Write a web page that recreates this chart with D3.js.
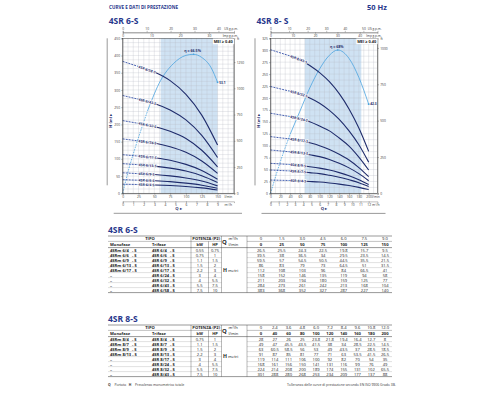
<!DOCTYPE html>
<html><head><meta charset="utf-8">
<script src="https://cdn.jsdelivr.net/npm/d3@7/dist/d3.min.js"></script>
<style>
body{margin:0;background:#fff}
svg{font-family:"Open Sans",sans-serif;display:block}
</style></head><body>
<svg id="page" width="500" height="400"></svg>
<script>
// ---- 4SR 6-S data
const q6 = [0,25,50,75,100,125,150];
const q6m3 = ["0","1.5","3.0","4.5","6.0","7.5","9.0"];
const mono6 = ["4SRm 6/4   - S","4SRm 6/6   - S","4SRm 6/9   - S","4SRm 6/13 - S","4SRm 6/17 - S","–","–","–","–"];
const tri6 = ["4SR 6/4   - S","4SR 6/6   - S","4SR 6/9   - S","4SR 6/13 - S","4SR 6/17 - S","4SR 6/24 - S","4SR 6/32 - S","4SR 6/43 - S","4SR 6/58 - S"];
const curve6 = ["4SR 6/4-S","4SR 6/6-S","4SR 6/9-S","4SR 6/13-S","4SR 6/17-S","4SR 6/24-S","4SR 6/32-S","4SR 6/43-S","4SR 6/58-S"];
const kw6 = ["0.55","0.75","1.1","1.5","2.2","3","4","5.5","7.5"];
const hp6 = ["0.75","1","1.5","2","3","4","5.5","7.5","10"];
const h6 = [
  [26.5,25.5,24.3,22.5,19.8,15.7,9.5],
  [39.5,38,36.5,34,29.5,23.5,14.5],
  [59.5,57,54.5,50.5,44.5,35.5,21.5],
  [86,83,79,73,64.5,51,31.5],
  [112,108,103,96,84,66.5,41],
  [158,152,146,135,119,94,58],
  [211,203,194,180,159,125,77],
  [284,273,261,242,213,168,104],
  [383,368,352,327,287,227,140]
];
const eff6Q = [0,10,20,40,60,80,100,112,125,140,150];
const eff6 = [0,12,22,40,54,62,66,66.5,65,60,53.1];

// ---- 4SR 8-S data
const q8 = [0,40,60,80,100,120,140,160,180,200];
const q8m3 = ["0","2.4","3.6","4.8","6.0","7.2","8.4","9.6","10.8","12.0"];
const mono8 = ["4SRm 8/4   - S","4SRm 8/7   - S","4SRm 8/9   - S","4SRm 8/13 - S","–","–","–","–"];
const tri8 = ["4SR 8/4   - S","4SR 8/7   - S","4SR 8/9   - S","4SR 8/13 - S","4SR 8/17 - S","4SR 8/24 - S","4SR 8/32 - S","4SR 8/43 - S"];
const curve8 = ["4SR 8/4-S","4SR 8/7-S","4SR 8/9-S","4SR 8/13-S","4SR 8/17-S","4SR 8/24-S","4SR 8/32-S","4SR 8/43-S"];
const kw8 = ["0.75","1.1","1.5","2.2","3","4","5.5","7.5"];
const hp8 = ["1","1.5","2","3","4","5.5","7.5","10"];
const h8 = [
  [28,27,26,25,23.8,21.8,19.4,16.4,12.7,8],
  [49,47,45.5,43.5,41.5,38,34,28.5,22.5,14.5],
  [63,60.5,58.5,56,53,49,43.5,37,28.5,18.5],
  [91,87,85,81,77,71,63,53.5,41.5,26.5],
  [119,114,111,106,100,92,82,70,54,35],
  [168,161,156,150,141,131,116,99,76,49],
  [224,214,208,200,189,174,155,131,102,65.5],
  [301,288,280,268,253,234,209,177,137,88]
];
const eff8Q = [0,20,40,60,80,100,120,137,160,180,200];
const eff8 = [0,15,28,39,50,59,65.5,68,64,55,42.3];

const navy = "#1f2c6c", title = "#27378c", effBlue = "#4aa3df";
const page = d3.select("#page");

page.append("text").attr("x",109).attr("y",9).text("CURVE E DATI DI PRESTAZIONE")
  .attr("font-size",4.6).attr("font-weight","bold").attr("fill",title);
page.append("text").attr("x",387).attr("y",10).attr("text-anchor","end").text("50 Hz")
  .attr("font-size",7.5).attr("font-weight","bold").attr("fill",title);

function drawChart(c){
  let g = page.append("g");
  let x = d3.scaleLinear().domain([0,c.qMax]).range([c.left,c.right]);
  let y = d3.scaleLinear().domain([0,c.hMax]).range([c.bottom,c.top]);
  let yFt = d3.scaleLinear().domain([0,c.hMax/0.3048]).range([c.bottom,c.top]);
  let yEff = d3.scaleLinear().domain([0,100]).range([c.bottom,c.effTop]);

  g.append("text").attr("x",c.left-14).attr("y",24).text(c.title)
   .attr("font-size",8.5).attr("font-weight","bold").attr("fill",title);

  g.append("rect").attr("x",x(c.shade[0])).attr("y",c.top)
   .attr("width",x(c.shade[1])-x(c.shade[0])).attr("height",c.bottom-c.top).attr("fill","#cfe2f3");

  g.selectAll(".gv").data(d3.range(0,c.qMax,c.gridQ)).enter().append("line")
   .attr("x1",d=>x(d)).attr("x2",d=>x(d)).attr("y1",c.top).attr("y2",c.bottom)
   .attr("stroke","#b8bcc4").attr("stroke-width",0.3);
  g.selectAll(".gh").data(d3.range(0,c.hMax,c.gridH)).enter().append("line")
   .attr("y1",d=>y(d)).attr("y2",d=>y(d)).attr("x1",c.left).attr("x2",c.right)
   .attr("stroke","#b8bcc4").attr("stroke-width",0.3);

  let line = d3.line().x(d=>x(d[0])).y(d=>y(d[1])).curve(d3.curveMonotoneX);
  let effLine = d3.line().x(d=>x(d[0])).y(d=>yEff(d[1])).curve(d3.curveMonotoneX);

  // efficiency curve
  let ep = c.effQ.map((q,i)=>[q,c.eff[i]]);
  let ek = c.effQ.findIndex(q=>q>=c.dashTo);
  g.append("path").attr("d",effLine(ep.slice(0,ek+1))).attr("fill","none")
   .attr("stroke",effBlue).attr("stroke-width",0.8).attr("stroke-dasharray","1.6,1");
  g.append("path").attr("d",effLine(ep.slice(ek))).attr("fill","none")
   .attr("stroke",effBlue).attr("stroke-width",0.8);
  let pk = d3.maxIndex(c.eff);
  g.append("circle").attr("cx",x(c.effQ[pk])).attr("cy",yEff(c.eff[pk])).attr("r",0.8).attr("fill",effBlue);
  g.append("text").attr("x",x(c.effQ[pk])-1).attr("y",yEff(c.eff[pk])-2).attr("text-anchor","middle")
   .text("η = "+c.eff[pk]+"%").attr("font-size",3.6).attr("font-weight","bold").attr("fill",navy);
  let last = c.eff.length-1;
  g.append("rect").attr("x",x(c.effQ[last])-0.8).attr("y",yEff(c.eff[last])-0.8).attr("width",1.6).attr("height",1.6).attr("fill",effBlue);
  g.append("text").attr("x",x(c.effQ[last])+1.6).attr("y",yEff(c.eff[last])+1.2)
   .text(c.eff[last]).attr("font-size",3.2).attr("font-weight","bold").attr("fill",navy);

  // H curves
  let k = c.q.indexOf(c.dashTo);
  c.h.forEach((row,i)=>{
    let pts = c.q.map((q,j)=>[q,row[j]]);
    g.append("path").attr("d",line(pts.slice(0,k+1))).attr("fill","none")
     .attr("stroke","#3450a8").attr("stroke-width",0.9).attr("stroke-dasharray","2,1");
    g.append("path").attr("d",line(pts.slice(k))).attr("fill","none")
     .attr("stroke",navy).attr("stroke-width",1.1);
    let x0 = x(c.q[k]), y0 = y(row[k]), x1 = x(c.q[k+1]), y1 = y(row[k+1]);
    let ang = Math.atan2(y1-y0,x1-x0)*180/Math.PI;
    g.append("text").attr("transform",`translate(${x0},${y0}) rotate(${ang})`)
     .attr("dy","0.35em").text(c.names[i]).attr("font-size",3.6).attr("font-weight","bold")
     .attr("fill",navy).attr("stroke","#fff").attr("stroke-width",1.2).attr("paint-order","stroke");
  });

  g.append("rect").attr("x",c.left).attr("y",c.top).attr("width",c.right-c.left).attr("height",c.bottom-c.top)
   .attr("fill","none").attr("stroke","#333").attr("stroke-width",0.5);

  let mei = g.append("text").attr("x",c.right-1.2).attr("y",c.top+4.6).attr("text-anchor","end")
   .text("MEI ≥ 0.40").attr("font-size",3.9).attr("font-weight","bold").attr("fill","#222");
  let bb = mei.node().getBBox();
  g.insert("rect","text:last-of-type").attr("x",bb.x-0.8).attr("y",bb.y-0.3).attr("width",bb.width+1.6).attr("height",bb.height+0.6).attr("fill","#fff");

  let style = (sel)=>{
    sel.selectAll("text").attr("font-size",3.3).attr("fill","#333").attr("font-family","'Open Sans',sans-serif");
    sel.selectAll("path,line").attr("stroke","#444").attr("stroke-width",0.35);
  };
  let fmt = d3.format("d");

  g.append("g").attr("transform",`translate(${c.left},0)`)
   .call(d3.axisLeft(y).tickValues(d3.range(0,c.hMax+1,c.hStep)).tickSize(1.5).tickPadding(1.2).tickFormat(fmt)).call(style);
  g.append("g").attr("transform",`translate(${c.right},0)`)
   .call(d3.axisRight(yFt).tickValues(c.ftTicks).tickSize(1.5).tickPadding(1.2).tickFormat(fmt)).call(style);
  g.append("text").attr("x",c.right+3).attr("y",c.top+1.5).text("ft").attr("font-size",3.3).attr("fill","#333");

  g.append("g").attr("transform",`translate(0,${c.bottom})`)
   .call(d3.axisBottom(x).tickValues(c.q.length>7?d3.range(0,201,20):c.q).tickSize(1.5).tickPadding(0.8).tickFormat(fmt)).call(style);
  g.append("text").attr("x",c.lminX).attr("y",c.bottom+4.9).text("l/min").attr("font-size",3.2).attr("fill","#333");

  let xm = d3.scaleLinear().domain([0,c.qMax*0.06]).range([c.left,c.right]);
  g.append("g").attr("transform",`translate(0,${c.bottom+8})`)
   .call(d3.axisBottom(xm).tickValues(d3.range(0,c.m3Max+1)).tickSize(1.8).tickPadding(0.6).tickFormat(fmt)).call(style);
  g.append("text").attr("x",c.lminX).attr("y",c.bottom+12.4).text("m³/h").attr("font-size",3.3).attr("fill","#333");

  let xUs = d3.scaleLinear().domain([0,c.qMax/3.785]).range([c.left,c.right]);
  let xImp = d3.scaleLinear().domain([0,c.qMax/4.546]).range([c.left,c.right]);
  g.append("g").attr("transform",`translate(0,${c.top-6})`)
   .call(d3.axisTop(xUs).tickValues(c.usTicks).tickSize(1.5).tickPadding(0.6).tickFormat(fmt)).call(style);
  g.append("g").attr("transform",`translate(0,${c.top-6})`)
   .call(d3.axisBottom(xImp).tickValues(c.impTicks).tickSize(1.5).tickPadding(0.6).tickFormat(fmt)).call(style);
  g.append("text").attr("x",c.right+4).attr("y",c.top-8.3).attr("text-anchor","end").text("US g.p.m.").attr("font-size",3.1).attr("fill","#333");
  g.append("text").attr("x",c.right+4).attr("y",c.top-1.6).attr("text-anchor","end").text("Imp g.p.m.").attr("font-size",3.1).attr("fill","#333");

  g.append("text").attr("x",(c.left+c.right)/2).attr("y",c.bottom+17).attr("text-anchor","middle")
   .text("Q ▸").attr("font-size",4.2).attr("font-weight","bold").attr("fill",navy);
  g.append("line").attr("x1",c.left-9).attr("x2",c.right+8).attr("y1",c.bottom+20).attr("y2",c.bottom+20)
   .attr("stroke","#333").attr("stroke-width",0.5);
  g.append("text").attr("transform",`translate(${c.left-10.5},${(c.top+c.bottom)/2+5}) rotate(-90)`)
   .attr("text-anchor","middle").text("H (m) ▸").attr("font-size",4).attr("font-weight","bold").attr("fill",navy);
  g.append("line").attr("x1",c.left-15.5).attr("x2",c.left-15.5).attr("y1",c.top).attr("y2",c.bottom-8)
   .attr("stroke","#333").attr("stroke-width",0.5);
}

drawChart({title:"4SR 6-S",left:122.7,right:234,top:38.3,bottom:193.3,qMax:176,hMax:450,hStep:50,
  gridQ:25/3,gridH:12.5,shade:[60,150],dashTo:25,effTop:-15.7,m3Max:9,lminX:224.5,
  ftTicks:[0,250,500,750,1000,1250],usTicks:[0,10,20,30,40],impTicks:[0,10,20,30],
  q:q6,h:h6,names:curve6,effQ:eff6Q,eff:eff6});
drawChart({title:"4SR 8- S",left:270.5,right:377.5,top:38.3,bottom:193.4,qMax:218,hMax:325,hStep:25,
  gridQ:10,gridH:12.5,shade:[70,185],dashTo:40,effTop:-17.5,m3Max:12,lminX:372,
  ftTicks:[0,250,500,750,1000],usTicks:[0,10,20,30,40,50],impTicks:[0,10,20,30,40],
  q:q8,h:h8,names:curve8,effQ:eff8Q,eff:eff8});

function drawTable(t){
  let g = page.append("g");
  let fs = 4.1, L = 108, R = 392;
  let col = d3.scalePoint().domain(d3.range(t.q.length)).range([261,385]);
  g.append("text").attr("x",L).attr("y",t.top-3).text(t.title)
   .attr("font-size",8.5).attr("font-weight","bold").attr("fill",title);
  let rowA = t.top+2.6, rowB = t.top+8.6, body = t.top+11.6, rh = 5;
  let bottom = body + rh*t.h.length;
  let hl = (yy,x1,x2,w,c)=>g.append("line").attr("x1",x1).attr("x2",x2).attr("y1",yy).attr("y2",yy).attr("stroke",c||"#333").attr("stroke-width",w);
  let vl = (xx,y1,y2)=>g.append("line").attr("x1",xx).attr("x2",xx).attr("y1",y1).attr("y2",y2).attr("stroke","#333").attr("stroke-width",0.35);
  hl(t.top,L,R,0.5);
  hl(t.top+5.4,L,221.5,0.3); hl(t.top+5.4,247,R,0.3);
  hl(body,L,R,0.5);
  hl(bottom,L,R,0.5);
  d3.range(1,t.h.length).forEach(i=>{ hl(body+rh*i,L,221.5,0.25,"#888"); hl(body+rh*i,247,R,0.25,"#888"); });
  vl(191,t.top,bottom); vl(208.5,t.top+5.4,bottom); vl(221.5,t.top,bottom); vl(247,t.top,bottom);

  let tx = (xx,yy,s,o)=>{
    let e = g.append("text").attr("x",xx).attr("y",yy).attr("dy","0.35em").text(s)
      .attr("font-size",fs).attr("fill","#222").style("white-space","pre");
    if(o&&o.anchor) e.attr("text-anchor",o.anchor);
    if(o&&o.bold) e.attr("font-weight","bold");
    if(o&&o.size) e.attr("font-size",o.size);
    return e;
  };
  tx(150,rowA,"TIPO",{anchor:"middle",bold:1});
  tx(206.2,rowA,"POTENZA (P2)",{anchor:"middle",bold:1});
  tx(110,rowB,"Monofase",{bold:1}); tx(152,rowB,"Trifase",{bold:1});
  tx(199.7,rowB,"kW",{anchor:"middle",bold:1}); tx(215,rowB,"HP",{anchor:"middle",bold:1});
  tx(224.5,(rowA+rowB)/2,"Q",{anchor:"middle",bold:1,size:6});
  tx(228.5,rowA,"m³/h"); tx(228.5,rowB,"l/min");
  t.qm3.forEach((s,i)=>tx(col(i),rowA,s,{anchor:"middle"}));
  t.q.forEach((s,i)=>tx(col(i),rowB,String(s),{anchor:"middle",bold:1}));
  t.h.forEach((row,i)=>{
    let yy = body+rh*(i+0.5);
    tx(110,yy,t.mono[i],{bold:1}); tx(152,yy,t.tri[i],{bold:1});
    tx(199.7,yy,t.kw[i],{anchor:"middle"}); tx(215,yy,t.hp[i],{anchor:"middle"});
    row.forEach((v,j)=>tx(col(j),yy,String(v),{anchor:"middle"}));
  });
  let hm = tx(223,(body+bottom)/2,"H",{bold:1,size:5.2});
  hm.append("tspan").text(" metri").attr("font-weight","normal").attr("font-size",fs);
}

drawTable({title:"4SR 6-S",top:236,q:q6,qm3:q6m3,mono:mono6,tri:tri6,kw:kw6,hp:hp6,h:h6});
drawTable({title:"4SR 8-S",top:325,q:q8,qm3:q8m3,mono:mono8,tri:tri8,kw:kw8,hp:hp8,h:h8});

page.append("text").attr("x",108).attr("y",386).attr("font-size",3.4).attr("fill","#333")
  .html('<tspan font-weight="bold">Q</tspan> = Portata   <tspan font-weight="bold">H</tspan> = Prevalenza manometrica totale').style("white-space","pre");
page.append("text").attr("x",287).attr("y",386).attr("font-size",3.4).attr("fill","#333")
  .text("Tolleranza delle curve di prestazione secondo EN ISO 9906 Grado 3B.");
</script>
</body></html>
